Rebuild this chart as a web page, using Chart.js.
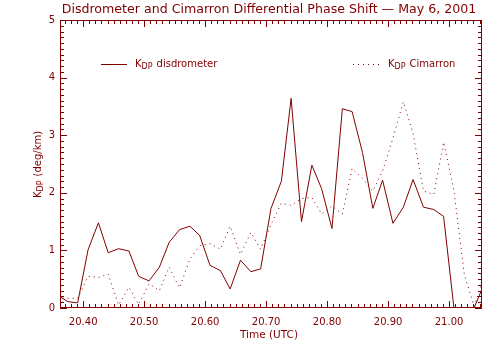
<!DOCTYPE html>
<html>
<head>
<meta charset="utf-8">
<script src="https://cdn.jsdelivr.net/npm/chart.js@4"></script>
<style>
  body { margin: 0; background: #fff; }
  canvas { display: block; }
</style>
</head>
<body>
<canvas id="myChart" width="500" height="350"></canvas>
<script>
var ink = '#800000';
var font = '"DejaVu Sans", sans-serif';

// time in hours UTC
var timeUTC = [20.358, 20.375, 20.391, 20.408, 20.425, 20.441, 20.458, 20.475, 20.491, 20.508,
               20.525, 20.541, 20.558, 20.575, 20.591, 20.608, 20.625, 20.641, 20.658, 20.675,
               20.691, 20.708, 20.725, 20.741, 20.758, 20.775, 20.791, 20.808, 20.825, 20.841,
               20.858, 20.875, 20.891, 20.908, 20.925, 20.941, 20.958, 20.975, 20.991, 21.008,
               21.025, 21.041, 21.058];
var kdpDisdrometer = [0.22, 0.11, 0.09, 1.01, 1.48, 0.96, 1.03, 0.99, 0.55, 0.47,
                      0.71, 1.14, 1.36, 1.42, 1.26, 0.74, 0.65, 0.33, 0.83, 0.63,
                      0.68, 1.73, 2.20, 3.64, 1.50, 2.48, 2.07, 1.38, 3.46, 3.41,
                      2.70, 1.73, 2.22, 1.47, 1.75, 2.23, 1.75, 1.71, 1.59, 0.00,
                      0.00, 0.00, 0.43];
var kdpCimarron = [0.17, 0.17, 0.17, 0.55, 0.53, 0.59, 0.05, 0.36, 0.06, 0.42,
                   0.30, 0.71, 0.35, 0.85, 1.08, 1.12, 1.02, 1.42, 0.93, 1.31,
                   1.02, 1.45, 1.82, 1.78, 1.90, 1.92, 1.63, 1.77, 1.63, 2.42,
                   2.25, 2.03, 2.38, 2.95, 3.58, 3.03, 2.03, 1.97, 2.88, 2.04,
                   0.58, 0.03, 0.55];

var xTicks = [20.40, 20.50, 20.60, 20.70, 20.80, 20.90, 21.00];
var yTicks = [0, 1, 2, 3, 4, 5];

function pts(ys) {
  return timeUTC.map(function (t, i) { return { x: t, y: ys[i] }; });
}

// K with DP subscript, drawn at current origin
function kdpText(ctx, x, y, size, rest) {
  ctx.font = size + 'px ' + font;
  ctx.fillText('K', x, y);
  x += ctx.measureText('K').width;
  ctx.font = Math.round(size * 0.75) + 'px ' + font;
  ctx.fillText('DP', x, y + 3);
  x += ctx.measureText('DP').width + 4;
  ctx.font = size + 'px ' + font;
  ctx.fillText(rest, x, y);
}

// IDL-style box with inward major/minor ticks + labels
var idlFrame = {
  id: 'idlFrame',
  afterDatasetsDraw: function (chart) {
    var ctx = chart.ctx, a = chart.chartArea, x = chart.scales.x, y = chart.scales.y;
    ctx.save();
    ctx.strokeStyle = ink;
    ctx.lineWidth = 1;
    ctx.beginPath();
    ctx.rect(a.left + 0.5, a.top + 0.5, a.right - a.left - 1, a.bottom - a.top - 1);
    var i, v, p, len;
    for (i = 37; i <= 105; i++) {
      v = 20 + i / 100;
      p = Math.round(x.getPixelForValue(v)) + 0.5;
      len = (i % 10 === 0) ? 7 : 4;
      ctx.moveTo(p, a.bottom); ctx.lineTo(p, a.bottom - len);
      ctx.moveTo(p, a.top); ctx.lineTo(p, a.top + len);
    }
    for (i = 0; i <= 50; i++) {
      p = Math.round(y.getPixelForValue(i / 10)) + 0.5;
      len = (i % 10 === 0) ? 7 : 4;
      ctx.moveTo(a.left, p); ctx.lineTo(a.left + len, p);
      ctx.moveTo(a.right, p); ctx.lineTo(a.right - len, p);
    }
    ctx.stroke();

    ctx.fillStyle = ink;
    ctx.textBaseline = 'middle';
    ctx.textAlign = 'center';
    ctx.font = '12.6px ' + font;
    ctx.fillText('Disdrometer and Cimarron Differential Phase Shift \u2014 May 6, 2001', 269, 10);
    ctx.font = '10.5px ' + font;
    ctx.fillText('Time (UTC)', 269, 335);

    // legend
    ctx.textAlign = 'left';
    ctx.beginPath();
    ctx.moveTo(101, 64.5); ctx.lineTo(127, 64.5);
    ctx.stroke();
    kdpText(ctx, 135, 64, 10, 'disdrometer');
    ctx.beginPath();
    ctx.setLineDash([1, 4]);
    ctx.moveTo(353, 64.5); ctx.lineTo(379, 64.5);
    ctx.stroke();
    ctx.setLineDash([]);
    kdpText(ctx, 388, 64, 10, 'Cimarron');

    // y title
    ctx.translate(38, 198);
    ctx.rotate(-Math.PI / 2);
    kdpText(ctx, 0, 0, 10, '(deg/km)');
    ctx.restore();
  }
};

var ctx = document.getElementById('myChart').getContext('2d');
var myChart = new Chart(ctx, {
  type: 'line',
  data: {
    datasets: [{
      label: 'KDP disdrometer',
      data: pts(kdpDisdrometer),
      borderColor: ink,
      borderWidth: 1,
      pointRadius: 0,
      fill: false
    }, {
      label: 'KDP Cimarron',
      data: pts(kdpCimarron),
      borderColor: ink,
      borderWidth: 1,
      borderDash: [1, 4],
      pointRadius: 0,
      fill: false
    }]
  },
  options: {
    responsive: false,
    animation: false,
    elements: { line: { tension: 0 } },
    layout: { padding: { top: 20, right: 18, left: 0, bottom: 0 } },
    plugins: {
      legend: { display: false },
      title: { display: false },
      tooltip: { enabled: false }
    },
    scales: {
      x: {
        type: 'linear',
        min: 20.362,
        max: 21.054,
        afterBuildTicks: function (s) { s.ticks = xTicks.map(function (v) { return { value: v }; }); },
        afterFit: function (s) { s.height = 42; },
        grid: { display: false, drawTicks: false },
        border: { display: false },
        ticks: {
          color: ink, padding: 8, maxRotation: 0, autoSkip: false,
          font: { family: font, size: 10 },
          callback: function (v) { return v.toFixed(2); }
        }
      },
      y: {
        min: 0,
        max: 5,
        afterBuildTicks: function (s) { s.ticks = yTicks.map(function (v) { return { value: v }; }); },
        afterFit: function (s) { s.width = 60; },
        grid: { display: false, drawTicks: false },
        border: { display: false },
        ticks: {
          color: ink, padding: 5,
          font: { family: font, size: 10 },
          callback: function (v) { return String(v); }
        }
      }
    }
  },
  plugins: [idlFrame]
});
</script>
</body>
</html>
